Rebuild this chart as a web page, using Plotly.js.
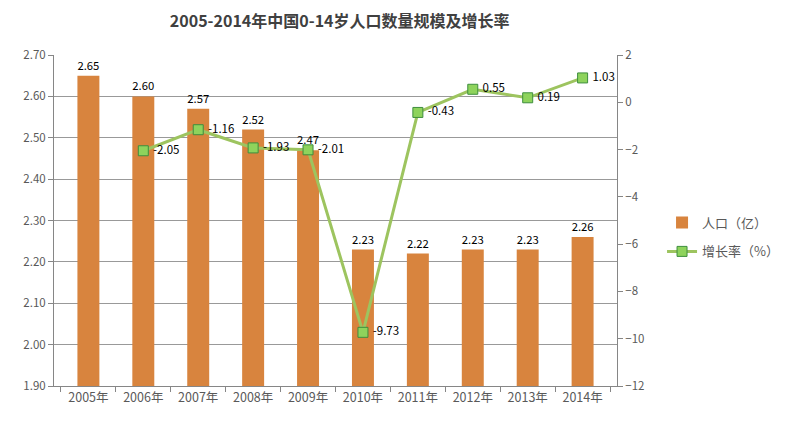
<!DOCTYPE html>
<html>
<head>
<meta charset="utf-8">
<script src="https://cdn.plot.ly/plotly-3.0.1.min.js"></script>
<style>html,body{margin:0;padding:0;background:#fff;}#chart{width:790px;height:432px;}</style>
</head>
<body>
<div id="chart"></div>
<script>
const years = ['2005年','2006年','2007年','2008年','2009年','2010年','2011年','2012年','2013年','2014年'];
const population = [2.65, 2.60, 2.57, 2.52, 2.47, 2.23, 2.22, 2.23, 2.23, 2.26];
const growth = [null, -2.05, -1.16, -1.93, -2.01, -9.73, -0.43, 0.55, 0.19, 1.03];
const leftTicks = [1.9, 2.0, 2.1, 2.2, 2.3, 2.4, 2.5, 2.6, 2.7];
const rightTicks = [-12, -10, -8, -6, -4, -2, 0, 2];

const FONT = '"Noto Sans CJK SC", "Noto Sans", sans-serif';

const bars = {
  type: 'bar', x: years, y: population, name: '人口（亿）', legendgroup: 'a',
  marker: {color: '#D8843E'},
  text: population.map(v => v.toFixed(2)), textposition: 'outside',
  textfont: {color: '#000', size: 11.5, family: FONT},
  cliponaxis: false, hoverinfo: 'x+y'
};
const line = {
  type: 'scatter', mode: 'lines+markers+text', x: years, y: growth, yaxis: 'y2',
  name: '增长率（%）', connectgaps: true, legendgroup: 'b',
  line: {color: '#9DC45F', width: 3},
  marker: {symbol: 'square', size: 10, color: '#8ED35C', line: {color: '#3E8E3E', width: 1}},
  text: growth.map(v => v === null ? '' : ' ' + v.toFixed(2)), textposition: 'middle right',
  textfont: {color: '#000', size: 11.5, family: FONT},
  cliponaxis: false
};

const layout = {
  width: 790, height: 432,
  margin: {l: 54, r: 173, t: 55, b: 46, autoexpand: false},
  paper_bgcolor: '#fff', plot_bgcolor: '#fff',
  font: {family: FONT, color: '#595959', size: 12},
  title: {text: '<b>2005-2014年中国0-14岁人口数量规模及增长率</b>', x: 0.43, xanchor: 'center', y: 0.95, yanchor: 'middle',
          font: {size: 16, color: '#404040', family: FONT}},
  bargap: 0.6,
  showlegend: true,
  legend: {x: 1.08, xanchor: 'left', y: 0.45, yanchor: 'middle', font: {size: 13, color: '#595959'},
           bgcolor: 'rgba(0,0,0,0)', itemwidth: 30, tracegroupgap: 9},
  xaxis: {type: 'category', showline: true, linecolor: '#868686', linewidth: 1,
          ticks: 'outside', tickson: 'boundaries', ticklen: 5, tickcolor: '#868686',
          tickfont: {size: 12.5, color: '#595959'}, showgrid: false, fixedrange: true},
  yaxis: {range: [1.9, 2.7], tickvals: leftTicks, ticktext: leftTicks.map(v => v.toFixed(2)),
          showline: true, linecolor: '#868686', ticks: 'outside', ticklen: 5, tickcolor: '#868686',
          showgrid: true, gridcolor: '#999999', gridwidth: 1, zeroline: false,
          tickfont: {size: 11.5, color: '#595959'}},
  yaxis2: {range: [-12, 2], tickvals: rightTicks, overlaying: 'y', side: 'right',
           showline: true, linecolor: '#868686', ticks: 'outside', ticklen: 5, tickcolor: '#868686',
           showgrid: false, zeroline: false, tickfont: {size: 11.5, color: '#595959'}}
};

Plotly.newPlot('chart', [bars, line], layout, {displayModeBar: false, staticPlot: true});
</script>
</body>
</html>
